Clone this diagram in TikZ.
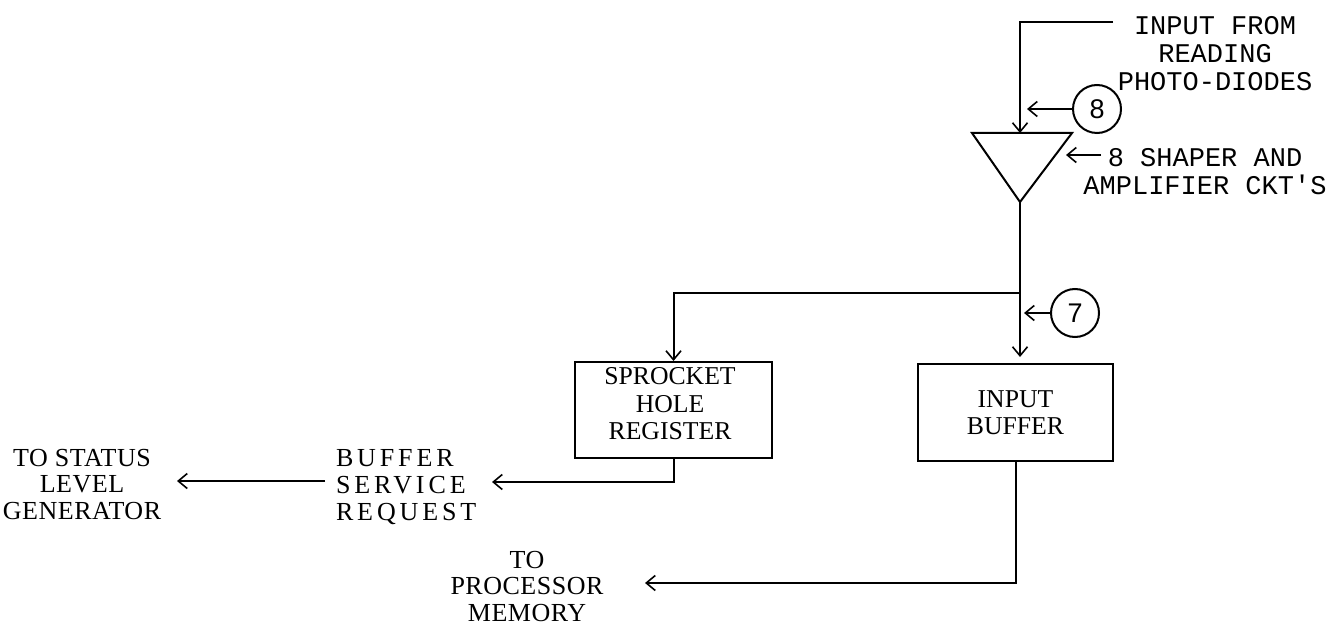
\documentclass[tikz,border=0pt]{standalone}
\usepackage{fontspec}
\setmainfont{Liberation Serif}
\newfontfamily\typefont{Liberation Mono}
\newfontfamily\spacedfont[LetterSpace=15]{Liberation Serif}
\newfontfamily\lightfont[LetterSpace=2]{Liberation Serif}
\newfontfamily\digitfont{Liberation Sans}
\usetikzlibrary{arrows.meta}
\begin{document}
\begin{tikzpicture}[x=1pt,y=-1pt,
  line width=2pt,
  arr/.style={-{Straight Barb[length=9pt,width=15pt,line width=1.6pt]}},
  box/.style={draw,rectangle,inner sep=0pt,line width=2pt},
  ring/.style={draw,circle,minimum size=48pt,inner sep=0pt,line width=2pt,
     font=\digitfont\fontsize{27}{27}\selectfont},
  typelabel/.style={inner sep=0pt,align=center,font=\typefont\fontsize{27}{28}\selectfont},
  boxlabel/.style={inner sep=0pt,align=center,font=\fontsize{25.7}{27.5}\selectfont},
  sidelabel/.style={inner sep=0pt,font=\lightfont\fontsize{26}{26.5}\selectfont}
]
\useasboundingbox (0,0) rectangle (1332,628);
\fill[white] (0,0) rectangle (1332,628);

% top input line and amplifier triangle
\coordinate (inputstart) at (1113,22);
\coordinate (tritop) at (1020,133);
\coordinate (trileft) at (972,133);
\coordinate (triright) at (1072,133);
\coordinate (apex) at (1020,202);
\draw (trileft) -- (triright) -- (apex) -- cycle;
\draw[arr] (inputstart) -| (tritop);

\node[typelabel,anchor=north] (inputlabel) at (1215,15) {INPUT FROM\\READING\\PHOTO-DIODES};

% circle 8
\node[ring] (c8) at (1097,109) {8};
\coordinate (c8tip) at (1027,109);
\draw[arr] (c8.west) -- (c8tip);

% shaper label
\node[typelabel,anchor=north] (shaperlabel) at (1205,147) {8 SHAPER AND\\AMPLIFIER CKT'S};
\coordinate (shapertail) at (1101,155);
\coordinate (shapertip) at (1066,155);
\draw[arr] (shapertail) -- (shapertip);

% boxes
\node[box,minimum width=197pt,minimum height=96pt] (sprocket) at (673.5,410) {};
\node[boxlabel,anchor=north] (sprockettext) at (670,366.5) {SPROCKET\\HOLE\\REGISTER};
\node[box,boxlabel,minimum width=195pt,minimum height=97pt] (inbuf) at (1015.5,412.5) {INPUT\\BUFFER};

% main vertical with branch
\coordinate (junction) at (1020,293);
\draw[arr,shorten >=6pt] (apex) -- (apex |- inbuf.north);
\draw[arr] (junction) -| (sprocket.north);

% circle 7
\node[ring] (c7) at (1075,313) {7};
\coordinate (c7tip) at (1024,313);
\draw[arr] (c7.west) -- (c7tip);

% buffer service request
\node[sidelabel,align=left,anchor=north west,font=\spacedfont\fontsize{26}{27}\selectfont] (bsr) at (335,448) {BUFFER\\SERVICE\\REQUEST};
\coordinate (bsrtip) at (492,482);
\draw[arr] (sprocket.south) |- (bsrtip);

% to status level generator
\node[sidelabel,align=center,anchor=north] (status) at (82,448) {TO STATUS\\LEVEL\\GENERATOR};
\coordinate (statustail) at (325,481);
\coordinate (statustip) at (177,481);
\draw[arr] (statustail) -- (statustip);

% to processor memory
\node[sidelabel,align=center,anchor=north] (proc) at (527,550) {TO\\PROCESSOR\\MEMORY};
\coordinate (proctip) at (645,583);
\draw[arr] (inbuf.south) |- (proctip);
\end{tikzpicture}
\end{document}
